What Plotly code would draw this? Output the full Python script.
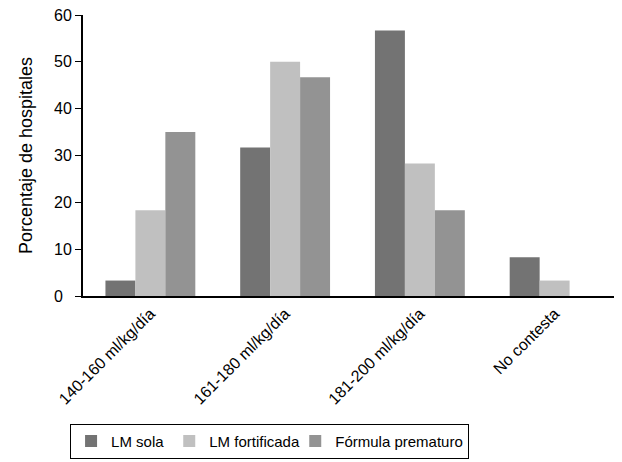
import plotly.graph_objects as go

categories = ["140-160 ml/kg/día", "161-180 ml/kg/día", "181-200 ml/kg/día", "No contesta"]
lm_sola = [3.3, 31.7, 56.7, 8.3]
lm_fortificada = [18.3, 50.0, 28.3, 3.3]
formula_prematuro = [35.0, 46.7, 18.3, 0]
y_ticks = [0, 10, 20, 30, 40, 50, 60]
# labels are left aligned in the original, so "0" gets a figure space
y_ticktext = ["0\u2007", "10", "20", "30", "40", "50", "60"]

FONT = "Liberation Sans, Arial, Helvetica, sans-serif"

fig = go.Figure()
fig.add_trace(go.Bar(x=categories, y=lm_sola, name="LM sola",
                     marker_color="#737373", marker_line_width=0))
fig.add_trace(go.Bar(x=categories, y=lm_fortificada, name="LM fortificada",
                     marker_color="#c0c0c0", marker_line_width=0,
                     legendwidth=81))
fig.add_trace(go.Bar(x=categories, y=formula_prematuro, name="Fórmula prematuro",
                     marker_color="#939393", marker_line_width=0))

# the page body adds an 8px offset, so margins are shifted to compensate
fig.update_layout(
    width=622, height=462,
    margin={'l': 75, 'r': 8, 't': 7, 'b': 174},
    barmode="group", bargap=0.333, bargroupgap=0,
    plot_bgcolor="white", paper_bgcolor="white",
    font=dict(family=FONT, size=15, color="black"),
    showlegend=True,
    legend=dict(orientation="h", x=-0.024, xanchor="left", y=-0.455, yanchor="top",
                bordercolor="black", borderwidth=1,
                font=dict(family=FONT, size=15, color="black"),
                traceorder="normal"),
)
fig.update_xaxes(showline=True, linecolor="black", linewidth=2, ticks="",
                 tickangle=-45, tickfont=dict(family=FONT, size=16, color="black"),
                 showgrid=False, automargin=False)
fig.update_yaxes(range=[0, 60], tickvals=y_ticks, ticktext=y_ticktext,
                 showline=True, linecolor="black",
                 linewidth=2, ticks="outside", ticklen=6, tickcolor="black",
                 tickfont=dict(family=FONT, size=16, color="black"),
                 ticklabeloverflow="allow",
                 showgrid=False, zeroline=False, automargin=False,
                 title=dict(text="Porcentaje de hospitales", standoff=17,
                            font=dict(family=FONT, size=18, color="black")))

fig.write_html("out.html")
